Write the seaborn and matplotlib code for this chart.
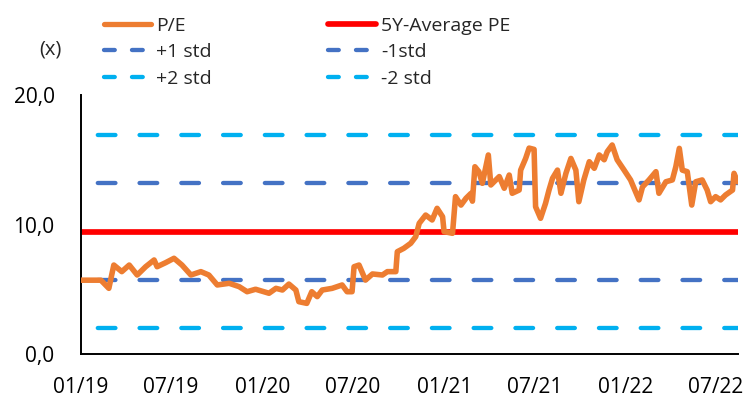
import matplotlib
matplotlib.use("Agg")
import matplotlib.pyplot as plt
import matplotlib.dates as mdates
from matplotlib.lines import Line2D
from matplotlib.ticker import FuncFormatter, FixedLocator
import seaborn as sns
import pandas as pd
import numpy as np

# ---- data ----
pe_dates = [
    "2019-01-01", "2019-02-10", "2019-02-26", "2019-03-08", "2019-03-24", "2019-04-08",
    "2019-04-24", "2019-05-11", "2019-05-28", "2019-06-03", "2019-06-20", "2019-07-07",
    "2019-07-23", "2019-08-10", "2019-08-30", "2019-09-15", "2019-10-02", "2019-10-26",
    "2019-11-15", "2019-12-01", "2019-12-18", "2020-01-14", "2020-01-28", "2020-02-10",
    "2020-02-23", "2020-03-08", "2020-03-14", "2020-03-30", "2020-04-09", "2020-04-20",
    "2020-04-30", "2020-05-20", "2020-06-09", "2020-06-19", "2020-06-29", "2020-07-03",
    "2020-07-13", "2020-07-26", "2020-08-09", "2020-08-29", "2020-09-08", "2020-09-25",
    "2020-09-28", "2020-10-11", "2020-10-25", "2020-11-04", "2020-11-11", "2020-11-24",
    "2020-12-07", "2020-12-17", "2020-12-28", "2020-12-31", "2021-01-17", "2021-01-23",
    "2021-02-03", "2021-02-13", "2021-02-23", "2021-02-26", "2021-03-03", "2021-03-11",
    "2021-03-18", "2021-03-30", "2021-04-04", "2021-04-21", "2021-05-01", "2021-05-11",
    "2021-05-17", "2021-05-31", "2021-06-03", "2021-06-13", "2021-06-20", "2021-06-30",
    "2021-07-03", "2021-07-13", "2021-07-23", "2021-07-30", "2021-08-06", "2021-08-16",
    "2021-08-23", "2021-09-02", "2021-09-12", "2021-09-22", "2021-09-28", "2021-10-08",
    "2021-10-19", "2021-10-29", "2021-11-08", "2021-11-18", "2021-11-24", "2021-12-04",
    "2021-12-14", "2021-12-28", "2022-01-10", "2022-01-20", "2022-01-27", "2022-02-03",
    "2022-02-16", "2022-03-02", "2022-03-08", "2022-03-22", "2022-04-04", "2022-04-11",
    "2022-04-18", "2022-04-24", "2022-05-04", "2022-05-13", "2022-05-21", "2022-06-03",
    "2022-06-13", "2022-06-20", "2022-06-30", "2022-07-10", "2022-07-20", "2022-08-03",
    "2022-08-06", "2022-08-13",
]
pe_values = [
    5.70, 5.70, 5.07, 6.87, 6.36, 6.87,
    6.10, 6.74, 7.26, 6.74, 7.05, 7.39,
    6.87, 6.10, 6.36, 6.10, 5.33, 5.46,
    5.20, 4.81, 5.00, 4.69, 5.07, 4.94,
    5.40, 4.94, 4.04, 3.91, 4.81, 4.43,
    4.94, 5.07, 5.33, 4.81, 4.81, 6.74,
    6.87, 5.71, 6.18, 6.10, 6.36, 6.36,
    7.90, 8.16, 8.55, 9.06, 10.09, 10.73,
    10.35, 11.25, 10.60, 9.45, 9.32, 12.15,
    11.50, 12.02, 12.40, 11.80, 14.46, 14.08,
    13.18, 15.37, 13.05, 13.70, 12.80, 13.82,
    12.41, 12.66, 14.20, 15.10, 15.90, 15.80,
    11.37, 10.48, 11.63, 12.66, 13.56, 14.20,
    12.41, 13.95, 15.10, 14.20, 11.76, 13.44,
    14.85, 14.34, 15.37, 15.00, 15.62, 16.14,
    15.00, 14.20, 13.44, 12.53, 11.90, 12.90,
    13.44, 14.08, 12.41, 13.30, 13.44, 14.46,
    15.88, 14.20, 14.08, 11.50, 13.30, 13.44,
    12.66, 11.76, 12.15, 11.90, 12.28, 12.66,
    13.95, 13.30,
]
avg_pe = 9.42
plus1_std = 13.18
minus1_std = 5.71
plus2_std = 16.92
minus2_std = 2.00

x_start = "2019-01-01"
x_end = "2022-08-14"
y_ticks = [0, 10, 20]
legend_labels = ["P/E", "+1 std", "+2 std", "5Y-Average PE", "-1std", "-2 std"]

# ---- styling ----
ORANGE = "#ED7D31"
RED = "#FF0000"
BLUE = "#4472C4"
CYAN = "#00B0F0"

sns.set_theme(style="white")
plt.rcParams["font.family"] = ["Open Sans", "DejaVu Sans"]

fig = plt.figure(figsize=(7.51, 4.01), dpi=100)
ax = fig.add_axes([81 / 751, 1 - 354 / 401, (738 - 81) / 751, (354 - 95) / 401])

df = pd.DataFrame({"date": pd.to_datetime(pe_dates), "pe": pe_values})
xs = pd.to_datetime([x_start, x_end])

dash_lw = 3.1
dash_style = (5.8, (4.1, 5.6))

def ref_line(val, color, lw, ls, cap):
    ax.plot(xs, [val, val], color=color, lw=lw, linestyle=ls,
            dash_capstyle=cap, solid_capstyle="butt", zorder=2)

ref_line(plus2_std, CYAN, dash_lw, dash_style, "round")
ref_line(minus2_std, CYAN, dash_lw, dash_style, "round")
ref_line(plus1_std, BLUE, dash_lw, dash_style, "round")
ref_line(minus1_std, BLUE, dash_lw, dash_style, "round")
ref_line(avg_pe, RED, 4.1, "-", "butt")

sns.lineplot(data=df, x="date", y="pe", ax=ax, color=ORANGE, lw=4.0,
             zorder=3, estimator=None)
ax.lines[-1].set_solid_joinstyle("round")

ax.set_xlim(xs[0], xs[1])
ax.set_ylim(0, 20)
ax.set_xlabel("")
ax.set_ylabel("")

ax.yaxis.set_major_locator(FixedLocator(y_ticks))
ax.yaxis.set_major_formatter(FuncFormatter(lambda v, p: f"{v:.1f}".replace(".", ",")))
ax.xaxis.set_major_locator(mdates.MonthLocator(bymonth=[1, 7]))
ax.xaxis.set_major_formatter(mdates.DateFormatter("%m/%y"))

for s in ["top", "right"]:
    ax.spines[s].set_visible(False)
for s in ["left", "bottom"]:
    ax.spines[s].set_color("black")
    ax.spines[s].set_linewidth(1.4)

ax.tick_params(axis="both", which="major", direction="out", length=6.5, width=1.4,
               color="black", labelsize=15, labelcolor="black")
ax.tick_params(axis="y", pad=12.5)
ax.tick_params(axis="x", pad=10)
ax.grid(False)

# legend
leg_dash = (0, (2.5, 4.0))
handles = [
    Line2D([], [], color=ORANGE, lw=3.8, solid_capstyle="round"),
    Line2D([], [], color=BLUE, lw=dash_lw, linestyle=leg_dash, dash_capstyle="round"),
    Line2D([], [], color=CYAN, lw=dash_lw, linestyle=leg_dash, dash_capstyle="round"),
    Line2D([], [], color=RED, lw=4.1, solid_capstyle="round"),
    Line2D([], [], color=BLUE, lw=dash_lw, linestyle=leg_dash, dash_capstyle="round"),
    Line2D([], [], color=CYAN, lw=dash_lw, linestyle=leg_dash, dash_capstyle="round"),
]
fig.legend(handles, legend_labels, ncol=2, loc="upper left",
           bbox_to_anchor=(88 / 751, 1 - 1 / 401), frameon=False,
           fontsize=14, handlelength=2.45, handletextpad=0.25,
           columnspacing=6.0, labelspacing=0.44, borderpad=0.3)

fig.text(50 / 751, 1 - 49 / 401, "(x)", fontsize=14.5, ha="center", va="center")

fig.savefig("out.png", dpi=100)
